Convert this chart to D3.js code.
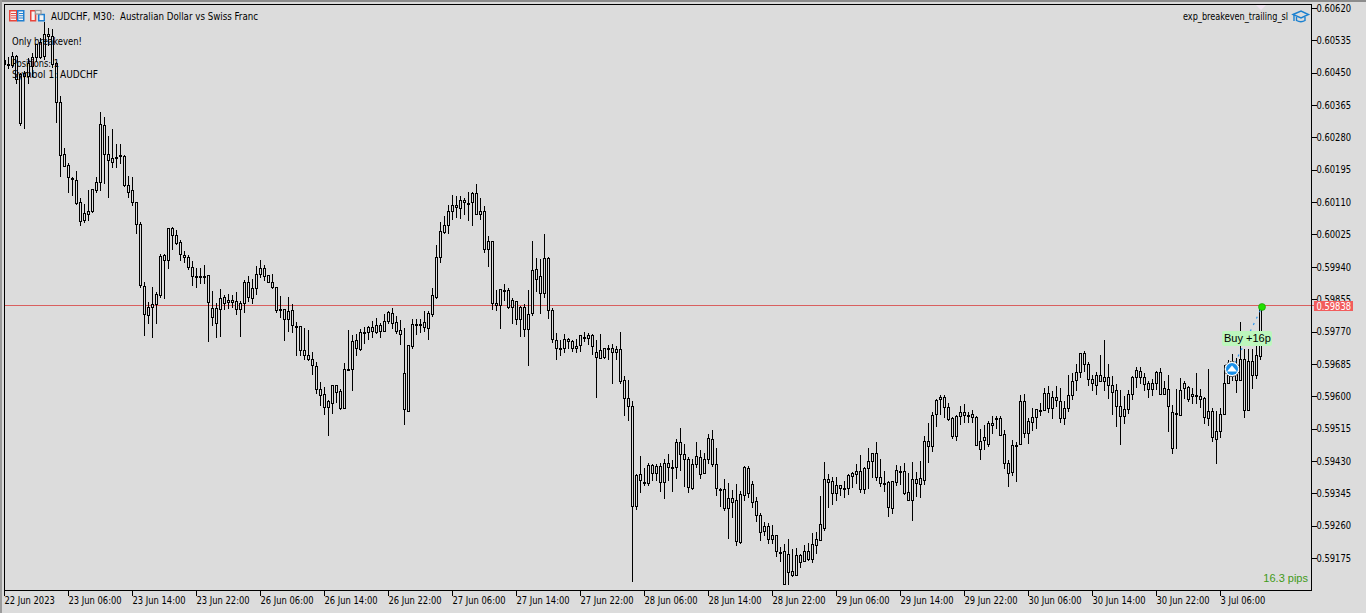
<!DOCTYPE html>
<html>
<head>
<meta charset="utf-8">
<script src="https://cdnjs.cloudflare.com/ajax/libs/d3/7.8.5/d3.min.js"></script>
<style>
html,body{margin:0;padding:0;background:#dcdcdc;overflow:hidden}
svg{display:block}
text{font-family:"DejaVu Sans Condensed","DejaVu Sans",sans-serif;font-size:10px;fill:#000}
</style>
</head>
<body>
<svg id="c" width="1366" height="613"></svg>
<script>
// Prices in 1e-5 units (points). Bodies are drawn hollow, so only top and bottom can be read.
const highs=[
60570,60491,60504,60496,60449,60454,60489,60502,60525,60541,60583,60567,60565,60478,60389,60252,60213,60176,60192,60121,
60105,60142,60144,60176,60347,60334,60284,60302,60263,60263,60234,60179,60176,60110,60058,59900,59847,59887,59874,59974,
59974,60042,60045,60037,60010,59981,59971,59955,59937,59937,59945,59918,59876,59845,59882,59866,59869,59866,59874,59850,
59905,59916,59908,59942,59958,59945,59918,59921,59887,59863,59829,59861,59842,59795,59785,59779,59774,59716,59690,59637,
59624,59590,59629,59629,59619,59687,59774,59761,59763,59777,59782,59785,59798,59806,59792,59816,59824,59832,59811,59800,
59779,59734,59803,59803,59803,59824,59824,59884,59997,60058,60073,60102,60129,60126,60126,60121,60137,60137,60158,60121,
60100,60021,60008,59879,59882,59895,59884,59858,59850,59837,59842,59879,60008,59963,59961,60026,59966,59832,59766,59748,
59763,59753,59748,59750,59761,59769,59766,59763,59748,59763,59727,59734,59737,59732,59769,59653,59642,59587,59396,59443,
59411,59424,59422,59422,59424,59435,59448,59432,59488,59516,59474,59440,59435,59480,59459,59451,59501,59511,59464,59359,
59382,59372,59354,59369,59351,59417,59417,59377,59335,59293,59269,59267,59261,59235,59204,59212,59225,59199,59201,59185,
59209,59214,59241,59243,59338,59427,59396,59388,59388,59367,59377,59396,59401,59422,59445,59414,59464,59451,59480,59435,
59403,59377,59377,59419,59417,59424,59398,59427,59401,59430,59495,59530,59559,59593,59603,59603,59582,59545,59551,59574,
59580,59558,59564,59548,59514,59524,59535,59548,59548,59548,59511,59432,59485,59480,59603,59606,59543,59569,59566,59582,
59622,59627,59614,59627,59622,59587,59656,59661,59685,59714,59719,59690,59656,59664,59708,59748,59685,59653,59632,59616,
59601,59616,59653,59677,59677,59661,59640,59645,59666,59674,59640,59656,59577,59619,59648,59640,59627,59621,59661,59619,
59598,59671,59569,59561,59569,59682,59695,59711,59700,59795,59724,59724,59724,59732,59840];
const bodyTops=[
60483,60473,60494,60494,60447,60449,60475,60491,60525,60531,60552,60552,60546,60475,60373,60236,60207,60173,60168,60110,
60081,60087,60144,60163,60315,60313,60236,60226,60229,60234,60231,60155,60142,60110,60052,59890,59834,59842,59869,59968,
59971,60042,60042,60024,60005,59971,59966,59940,59916,59916,59916,59918,59832,59832,59858,59861,59853,59853,59850,59845,
59900,59900,59884,59921,59937,59937,59918,59900,59887,59829,59829,59824,59826,59785,59785,59721,59708,59698,59679,59619,
59606,59587,59629,59629,59614,59671,59671,59745,59748,59769,59769,59782,59782,59787,59787,59798,59821,59819,59795,59774,
59661,59734,59790,59790,59790,59795,59819,59866,59966,60034,60050,60087,60102,60102,60116,60116,60108,60134,60134,60087,
60087,60008,60008,59845,59882,59879,59879,59853,59850,59834,59834,59816,59932,59934,59916,59963,59963,59826,59748,59727,
59750,59750,59745,59732,59761,59755,59761,59761,59716,59721,59727,59727,59727,59724,59724,59642,59595,59574,59393,59396,
59375,59419,59419,59417,59417,59424,59424,59414,59480,59480,59448,59435,59422,59443,59440,59435,59490,59488,59422,59356,
59356,59333,59333,59327,59343,59414,59411,59369,59325,59288,59259,59259,59235,59235,59191,59193,59185,59141,59183,59183,
59193,59193,59212,59225,59264,59382,59382,59377,59367,59367,59359,59393,59398,59403,59403,59411,59430,59451,59451,59388,
59372,59375,59377,59406,59403,59403,59348,59382,59382,59385,59482,59482,59551,59590,59598,59598,59572,59543,59548,59558,
59558,59551,59553,59545,59482,59493,59530,59530,59543,59543,59501,59424,59472,59472,59587,59587,59535,59545,59566,59564,
59608,59608,59598,59598,59587,59569,59603,59640,59664,59714,59714,59685,59645,59656,59656,59650,59650,59629,59616,59574,
59566,59606,59650,59669,59666,59650,59635,59635,59664,59664,59621,59619,59558,59556,59616,59635,59624,59606,59603,59601,
59595,59561,59561,59508,59553,59635,59661,59690,59661,59698,59698,59693,59693,59708,59834];
const bodyBottoms=[
60473,60470,60470,60433,60318,60441,60441,60468,60491,60491,60494,60546,60473,60373,60234,60205,60176,60171,60108,60060,
60063,60079,60087,60142,60163,60236,60221,60215,60226,60231,60155,60137,60110,60052,59892,59816,59813,59834,59842,59866,
59958,59958,60024,60003,59974,59966,59940,59916,59913,59913,59913,59847,59808,59792,59829,59845,59847,59847,59829,59829,
59845,59861,59858,59884,59921,59916,59900,59887,59826,59826,59803,59803,59787,59782,59721,59708,59698,59682,59619,59603,
59572,59572,59582,59611,59569,59569,59669,59671,59727,59724,59766,59769,59771,59769,59771,59771,59798,59792,59771,59763,
59566,59561,59732,59787,59787,59782,59779,59816,59861,59966,60031,60050,60087,60097,60094,60110,60105,60110,60079,60079,
59987,59987,59845,59840,59840,59876,59834,59834,59803,59803,59777,59777,59819,59908,59871,59871,59826,59750,59727,59724,
59727,59745,59727,59727,59734,59753,59753,59732,59703,59700,59703,59724,59716,59716,59640,59595,59574,59311,59311,59380,
59372,59372,59398,59398,59375,59375,59414,59411,59414,59448,59435,59361,59359,59422,59396,59398,59435,59422,59359,59354,
59306,59306,59322,59220,59217,59341,59346,59322,59288,59243,59246,59225,59225,59193,59188,59107,59138,59130,59130,59164,
59167,59172,59172,59209,59222,59254,59375,59346,59346,59359,59356,59359,59390,59396,59356,59356,59411,59430,59388,59372,
59369,59309,59306,59375,59401,59346,59327,59327,59372,59369,59380,59469,59469,59553,59593,59572,59540,59495,59495,59548,
59551,59548,59545,59472,59461,59485,59474,59524,59540,59498,59424,59398,59401,59469,59474,59503,59503,59532,59545,59561,
59564,59569,59569,59590,59543,59543,59569,59603,59642,59664,59685,59645,59635,59629,59640,59640,59629,59611,59574,59548,
59548,59566,59606,59650,59650,59632,59619,59619,59635,59606,59606,59574,59464,59553,59551,59621,59593,59601,59601,59593,
59545,59543,59493,59488,59508,59553,59635,59656,59642,59642,59564,59564,59656,59656,59706];
const lows=[
60470,60462,60465,60423,60313,60305,60423,60441,60481,60489,60486,60523,60465,60320,60179,60205,60137,60129,60105,60050,
60058,60063,60084,60137,60142,60160,60123,60202,60202,60213,60152,60123,60102,60029,59887,59761,59792,59755,59792,59861,
59858,59937,59987,60000,59958,59953,59934,59892,59887,59897,59897,59745,59787,59755,59758,59829,59832,59834,59816,59758,
59821,59850,59845,59869,59913,59905,59900,59884,59821,59808,59748,59771,59769,59708,59708,59698,59695,59658,59608,59577,
59553,59498,59556,59585,59566,59569,59669,59616,59708,59721,59740,59750,59755,59766,59755,59771,59792,59779,59766,59737,
59527,59561,59727,59763,59769,59771,59750,59811,59858,59953,60029,60029,60066,60071,60068,60079,60063,60050,60079,60066,
59979,59942,59829,59826,59779,59853,59832,59792,59790,59758,59758,59682,59813,59876,59819,59861,59805,59742,59698,59708,
59716,59727,59719,59716,59719,59745,59737,59711,59598,59700,59700,59698,59635,59698,59635,59551,59537,59114,59303,59348,
59367,59367,59380,59380,59351,59333,59380,59351,59385,59406,59364,59348,59356,59414,59385,59398,59424,59417,59341,59311,
59301,59227,59283,59209,59214,59327,59335,59309,59272,59222,59235,59214,59214,59180,59167,59107,59107,59128,59130,59151,
59167,59170,59164,59188,59222,59248,59309,59317,59327,59341,59335,59343,59361,59372,59348,59346,59359,59388,59380,59364,
59351,59285,59293,59367,59369,59343,59327,59275,59338,59335,59369,59427,59456,59522,59553,59545,59537,59490,59485,59527,
59532,59532,59532,59472,59435,59461,59469,59503,59516,59498,59411,59364,59393,59377,59474,59493,59477,59511,59516,59551,
59564,59558,59543,59574,59532,59527,59561,59593,59616,59650,59666,59629,59616,59606,59640,59616,59595,59553,59522,59474,
59530,59556,59593,59624,59635,59616,59598,59603,59619,59606,59606,59508,59451,59464,59551,59595,59587,59582,59582,59572,
59530,59524,59482,59424,59493,59553,59635,59642,59611,59642,59545,59564,59621,59648,59698];

const priceTicks=[60620,60535,60450,60365,60280,60195,60110,60025,59940,59855,59770,59685,59600,59515,59430,59345,59260,59175];
const timeLabels=["22 Jun 2023","23 Jun 06:00","23 Jun 14:00","23 Jun 22:00","26 Jun 06:00","26 Jun 14:00","26 Jun 22:00","27 Jun 06:00","27 Jun 14:00","27 Jun 22:00","28 Jun 06:00","28 Jun 14:00","28 Jun 22:00","29 Jun 06:00","29 Jun 14:00","29 Jun 22:00","30 Jun 06:00","30 Jun 14:00","30 Jun 22:00","3 Jul 06:00"];
const barsPerLabel=16;
const lastPrice=59838, entryBar=307, entryPrice=59671, exitBar=314, exitPrice=59834;

const BG="#dcdcdc";
const svg=d3.select("#c");
const x=d3.scaleLinear().domain([0,314]).range([4,1260]);
const y=d3.scaleLinear().domain([60620,59175]).range([8,558]);
const py=v=>Math.round(y(v));
const squeeze=(sel,k)=>sel.each(function(){
  const w=this.getComputedTextLength()*k;
  d3.select(this).attr("textLength",w).attr("lengthAdjust","spacingAndGlyphs");
});

// window frame
svg.append("rect").attr("width",1366).attr("height",613).attr("fill",BG);
svg.append("rect").attr("x",0).attr("y",0).attr("width",1366).attr("height",2).attr("fill","#8c8c8c");
svg.append("rect").attr("x",0).attr("y",0).attr("width",2).attr("height",613).attr("fill","#9c9c9c");

const plot=svg.append("g");
// last price line
const lastY=Math.floor(y(lastPrice))+.5;
plot.append("line").attr("x1",5).attr("x2",1314).attr("y1",lastY).attr("y2",lastY)
  .attr("stroke","#d9605f").attr("shape-rendering","crispEdges");

// candles
const idx=d3.range(highs.length);
const cg=plot.append("g").attr("shape-rendering","crispEdges");
cg.selectAll("line.w").data(idx).join("line").attr("class","w")
  .attr("x1",i=>x(i)+.5).attr("x2",i=>x(i)+.5)
  .attr("y1",i=>py(highs[i])).attr("y2",i=>py(lows[i])+1)
  .attr("stroke","#000");
cg.selectAll("rect.b").data(idx).join("rect").attr("class","b")
  .attr("x",i=>x(i)-.5).attr("width",2)
  .attr("y",i=>py(bodyTops[i])+.5)
  .attr("height",i=>py(bodyBottoms[i])-py(bodyTops[i]))
  .attr("fill",BG).attr("stroke","#000");

// clip left overflow of first candle by repainting margin
svg.append("rect").attr("x",2).attr("y",2).attr("width",2).attr("height",611).attr("fill",BG);

// plot border
svg.append("path").attr("d","M4.5 4.5H1311.5V590.5H4.5Z").attr("fill","none").attr("stroke","#000").attr("shape-rendering","crispEdges");

// axes
const ay=svg.append("g").attr("transform","translate(1311.5,0)")
  .call(d3.axisRight(y).tickValues(priceTicks).tickSize(5).tickPadding(0).tickFormat(d=>(d/1e5).toFixed(5)));
ay.select(".domain").remove();
ay.selectAll("line").attr("stroke","#000").attr("shape-rendering","crispEdges");
ay.selectAll("text").attr("fill","#000").style("font-size","10px").style("font-family",null).call(squeeze,0.93);

const tickIdx=timeLabels.map((_,k)=>k*barsPerLabel);
const ax=svg.append("g").attr("transform","translate(0,590.5)")
  .call(d3.axisBottom(x).tickValues(tickIdx).tickSize(5).tickPadding(1).tickFormat((d,k)=>timeLabels[k]));
ax.select(".domain").remove();
ax.selectAll("line").attr("stroke","#000").attr("shape-rendering","crispEdges");
ax.selectAll("text").attr("text-anchor","start").attr("fill","#000").style("font-size","10px").style("font-family",null).call(squeeze,0.93);

// last price tag
svg.append("rect").attr("x",1314).attr("y",301).attr("width",39).attr("height",10).attr("fill","#f25c5c");
svg.append("text").attr("x",1316.5).attr("y",309.5).style("fill","#fff").text((lastPrice/1e5).toFixed(5)).call(squeeze,0.93);

// trade: dotted line, buy label, markers
svg.append("line").attr("x1",x(entryBar)).attr("y1",369).attr("x2",x(exitBar)+2).attr("y2",py(exitPrice))
  .attr("stroke","#2a96f0").attr("stroke-dasharray","2 5").attr("stroke-width",1.2);
svg.append("rect").attr("x",1222).attr("y",331).attr("width",50).attr("height",15).attr("rx",2).attr("fill","#bdf7bd");
svg.append("text").attr("x",1224).attr("y",342).style("font-size","11px").style("font-family","'Liberation Sans'").text("Buy +16p");
svg.append("circle").attr("cx",x(exitBar)+2).attr("cy",py(exitPrice)).attr("r",3.5).attr("fill","#22e000").attr("stroke","#149400").attr("stroke-width",.6);
const mk=svg.append("g").attr("transform",`translate(${x(entryBar)},369)`);
mk.append("circle").attr("r",7.5).attr("fill","#fff").attr("stroke","#222").attr("stroke-dasharray","1.5 1.5");
mk.append("circle").attr("r",6).attr("fill","#1a90e8");
mk.append("path").attr("d","M0 -3.5L5 2.5H-5Z").attr("fill","#fff");

// chart notes
function note(s,xp,yp,w,anchor){
  const t=svg.append("text").attr("x",xp).attr("y",yp).attr("text-anchor",anchor||"start").text(s);
  if(w) t.attr("textLength",w).attr("lengthAdjust","spacingAndGlyphs");
  return t;
}
note("AUDCHF, M30:  Australian Dollar vs Swiss Franc",51,19.5,207).attr("xml:space","preserve");
note("Only breakeven!",12,45,70);
note("Positions: 1",12,67,47);
note("Symbol 1: AUDCHF",12,78,86);
note("exp_breakeven_trailing_sl",1183,19.5,105);
svg.append("text").attr("x",1308).attr("y",582).attr("text-anchor","end")
  .style("font-size","11px").style("font-family","'Liberation Sans'").style("fill","#3f9a18").text("16.3 pips");

// shift marker at top
svg.append("path").attr("d","M1256 5H1266L1261 10Z").attr("fill","#eee2ee");

// toolbar icons
const ic=svg.append("g").attr("fill","none");
ic.append("rect").attr("x",9.75).attr("y",10.75).attr("width",7).attr("height",10).attr("stroke","#e8453c").attr("stroke-width",1.5).attr("fill","#f4f4f4");
ic.append("rect").attr("x",17.75).attr("y",10.75).attr("width",6).attr("height",10).attr("stroke","#1f7fd0").attr("stroke-width",1.5).attr("fill","#f4f4f4");
ic.append("path").attr("d","M11 13.5H16M11 15.75H16M11 18H16").attr("stroke","#e8453c").attr("stroke-width",1.2);
ic.append("path").attr("d","M19 13.5H23M19 15.75H23M19 18H23").attr("stroke","#1f7fd0").attr("stroke-width",1.2);
ic.append("path").attr("d","M30.75 10.75H35.5V20.75H30.75Z").attr("stroke","#e8453c").attr("stroke-width",1.5).attr("fill","#f4f4f4");
ic.append("path").attr("d","M38.75 14.5H44.25V20.75H38.75Z").attr("stroke","#1f7fd0").attr("stroke-width",1.5).attr("fill","#f4f4f4");
ic.append("rect").attr("x",35.5).attr("y",10.5).attr("width",5.5).attr("height",3.5).attr("stroke","#9a9a9a").attr("stroke-width",1.2).attr("fill","#e8e8e8");

// cap icon
const cap=svg.append("g").attr("fill","none").attr("stroke","#1a80d0").attr("stroke-width",1.4);
cap.append("path").attr("d","M1293 14.5L1301 11L1308.5 14.5L1301 18Z");
cap.append("path").attr("d","M1296.5 17V20.5Q1301 23 1305 20.5V17");
cap.append("path").attr("d","M1294 15V21");
</script>
</body>
</html>
